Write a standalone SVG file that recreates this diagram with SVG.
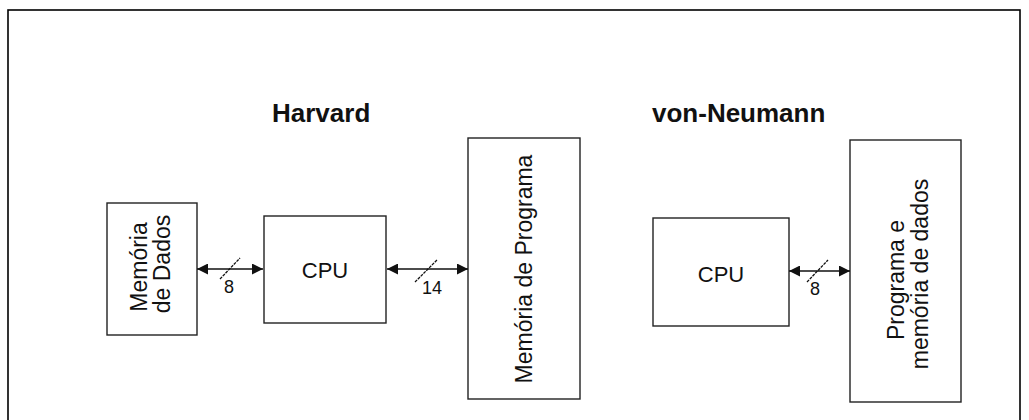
<svg xmlns="http://www.w3.org/2000/svg" width="1029" height="420" viewBox="0 0 1029 420">
<style>
.box{fill:#fff;stroke:#222;stroke-width:1.4}
.t{font-family:"Liberation Sans",Arial,sans-serif;fill:#111}
.title{font-size:26px;font-weight:bold}
.lbl{font-size:23px}
.cpu{font-size:22px}
.num{font-size:18px}
.bus{stroke:#111;stroke-width:1.6;fill:none}
.sl{stroke:#111;stroke-width:1.3;stroke-dasharray:3 1}
</style>
<defs>
<marker id="ah" viewBox="0 0 10 10" refX="10" refY="5" markerWidth="11" markerHeight="11" markerUnits="userSpaceOnUse" orient="auto-start-reverse">
<path d="M0,0 L10,5 L0,10 Z" fill="#111"/>
</marker>
</defs>
<rect x="8" y="10" width="1012" height="430" fill="#fff" stroke="#000" stroke-width="1.6"/>
<text class="t title" x="272" y="122">Harvard</text>
<text class="t title" x="652" y="122">von-Neumann</text>
<g id="mem-dados">
<rect class="box" x="107" y="203" width="90" height="132"/>
<text class="t lbl" transform="translate(147,267) rotate(-90)" text-anchor="middle">Memória</text>
<text class="t lbl" transform="translate(170,264) rotate(-90)" text-anchor="middle">de Dados</text>
</g>
<g id="cpu-harvard">
<rect class="box" x="264" y="216" width="122" height="107"/>
<text class="t cpu" x="325" y="278" text-anchor="middle">CPU</text>
</g>
<g id="mem-programa">
<rect class="box" x="468" y="138" width="112" height="261"/>
<text class="t lbl" transform="translate(532,269) rotate(-90)" text-anchor="middle">Memória de Programa</text>
</g>
<g id="cpu-vn">
<rect class="box" x="653" y="218" width="136" height="108"/>
<text class="t cpu" x="721" y="282" text-anchor="middle">CPU</text>
</g>
<g id="mem-vn">
<rect class="box" x="850" y="140" width="111" height="262"/>
<text class="t lbl" transform="translate(904,280) rotate(-90)" text-anchor="middle">Programa e</text>
<text class="t lbl" transform="translate(928,274) rotate(-90)" text-anchor="middle">memória de dados</text>
</g>
<g id="connectors">
<line class="bus" x1="197" y1="269" x2="263" y2="269" marker-start="url(#ah)" marker-end="url(#ah)"/>
<line class="sl" x1="220" y1="279" x2="240" y2="258"/>
<text class="t num" x="229" y="293" text-anchor="middle">8</text>
<line class="bus" x1="387" y1="269" x2="468" y2="269" marker-start="url(#ah)" marker-end="url(#ah)"/>
<line class="sl" x1="415" y1="282" x2="437" y2="260"/>
<text class="t num" x="432" y="294" text-anchor="middle">14</text>
<line class="bus" x1="789" y1="271" x2="850" y2="271" marker-start="url(#ah)" marker-end="url(#ah)"/>
<line class="sl" x1="807" y1="282" x2="828" y2="260"/>
<text class="t num" x="815" y="295" text-anchor="middle">8</text>
</g>
</svg>
